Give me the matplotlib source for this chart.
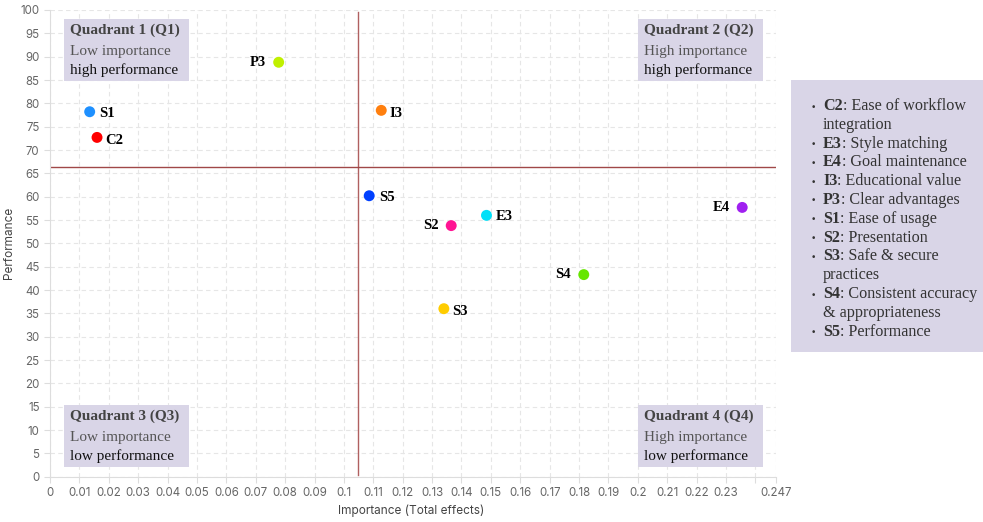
import matplotlib.pyplot as plt
from matplotlib.patches import Rectangle

# Donnees
codes = ['S1', 'C2', 'P3', 'I3', 'S5', 'S2', 'E3', 'S4', 'E4', 'S3']
importance = [0.0135, 0.016, 0.0778, 0.1127, 0.1086, 0.1365, 0.1485, 0.1816, 0.2355, 0.134]
performance = [78.2, 72.7, 88.8, 78.5, 60.2, 53.8, 56.0, 43.3, 57.7, 36.0]
colors = ['#1e90ff', '#ff0000', '#c0f000', '#ff7f0e', '#0040ff', '#ff1493',
          '#00e0f8', '#66e600', '#a020f0', '#ffcc00']
label_side = ['right', 'right_low', 'left', 'right_low', 'right', 'left',
              'right', 'left', 'left', 'right_low']

mean_importance = 0.1047
mean_performance = 66.4

x_ticks = [round(i * 0.01, 2) for i in range(25)] + [0.247]
x_tick_labels = ['0'] + [f'{t:g}' for t in x_ticks[1:24]] + ['', '0.247']
y_ticks = list(range(0, 101, 5))

quadrants = [
    ('Quadrant 1 (Q1)', 'Low importance', 'high performance'),
    ('Quadrant 2 (Q2)', 'High importance', 'high performance'),
    ('Quadrant 3 (Q3)', 'Low importance', 'low performance'),
    ('Quadrant 4 (Q4)', 'High importance', 'low performance'),
]

legend_items = [
    ('C2', ': Ease of workflow', 'integration'),
    ('E3', ': Style matching', None),
    ('E4', ': Goal maintenance', None),
    ('I3', ': Educational value', None),
    ('P3', ': Clear advantages', None),
    ('S1', ': Ease of usage', None),
    ('S2', ': Presentation', None),
    ('S3', ': Safe & secure', 'practices'),
    ('S4', ': Consistent accuracy', '& appropriateness'),
    ('S5', ': Performance', None),
]

W, H = 983, 522
SERIF = 'Liberation Serif'
BOX = '#d9d5e7'


def fx(px):
    return px / W


def fy(py):
    return 1 - py / H


fig = plt.figure(figsize=(W / 100, H / 100), dpi=100)
ax = fig.add_axes([fx(50), fy(476.7), fx(776) - fx(50), fy(10) - fy(476.7)])

ax.set_xlim(0, 0.247)
ax.set_ylim(0, 100)
ax.set_xticks(x_ticks)
ax.set_xticklabels(x_tick_labels)
ax.set_yticks(y_ticks)
ax.grid(True, linestyle=(0, (4, 3)), color='#e6e6e6', linewidth=0.8)
ax.set_axisbelow(True)
for s in ['top', 'right']:
    ax.spines[s].set_visible(False)
for s in ['left', 'bottom']:
    ax.spines[s].set_color('#dddddd')
ax.tick_params(colors='#dddddd', labelcolor='#666666', labelsize=8.3, length=4)
for lab in ax.get_xticklabels() + ax.get_yticklabels():
    lab.set_family('Inter')
fig.text(fx(411), fy(511), 'Importance (Total effects)', family='Inter', fontsize=8.5,
         color='#444444', ha='center', va='center')
ax.set_ylabel('Performance', family='Inter', fontsize=8.5, color='#444444', labelpad=4)

# lignes moyennes
ax.plot([mean_importance, mean_importance], [0.3, 99.5], color='#b06060', linewidth=1)
ax.plot([0, 0.247], [mean_performance, mean_performance], color='#a04848', linewidth=1)

ax.scatter(importance, performance, c=colors, s=62, zorder=3, edgecolors='none')
for code, xv, yv, side in zip(codes, importance, performance, label_side):
    if side == 'left':
        off, ha, va = (-9, 0), 'right', 'center'
    elif side == 'right':
        off, ha, va = (7, -1), 'left', 'center'
    else:
        off, ha, va = (6, -2), 'left', 'center'
    ax.annotate(code, (xv, yv), xytext=off, textcoords='offset points',
                ha=ha, va=va, family=SERIF, weight='bold', fontsize=10.5)

# boites des quadrants
box_pos = [(64, 19), (638, 19), (64, 405), (638, 405)]
for (title, l1, l2), (bx, by) in zip(quadrants, box_pos):
    fig.patches.append(Rectangle((fx(bx), fy(by + 62)), fx(125), 62 / H,
                                 transform=fig.transFigure, facecolor=BOX,
                                 edgecolor='none', zorder=4))
    fig.text(fx(bx + 6), fy(by + 11), title, family=SERIF, weight='bold',
             fontsize=11, color='#444444', va='center', zorder=5)
    fig.text(fx(bx + 6), fy(by + 32), l1, family=SERIF, fontsize=11,
             color='#555555', va='center', zorder=5)
    fig.text(fx(bx + 6), fy(by + 51), l2, family=SERIF, fontsize=11,
             color='#111111', va='center', zorder=5)

# legende a droite
fig.patches.append(Rectangle((fx(791), fy(352)), fx(192), 272 / H,
                             transform=fig.transFigure, facecolor=BOX,
                             edgecolor='none'))
row = 0
step = 18.8
for code, desc, extra in legend_items:
    ypx = 106 + row * step
    fig.text(fx(811), fy(ypx + 1), '•', fontsize=6.5, color='#333333', va='center')
    t = fig.text(fx(823), fy(ypx), code, family=SERIF, weight='bold',
                 fontsize=11.6, color='#333333', va='center')
    fig.texts.append(plt.Annotation(desc, xy=(1, 0), xycoords=t,
                                    va='bottom', family=SERIF, fontsize=11.6,
                                    color='#333333'))
    fig.texts[-1].set_figure(fig)
    row += 1
    if extra:
        fig.text(fx(823), fy(106 + row * step), extra, family=SERIF,
                 fontsize=11.6, color='#333333', va='center')
        row += 1

fig.savefig('out.png', dpi=100)
